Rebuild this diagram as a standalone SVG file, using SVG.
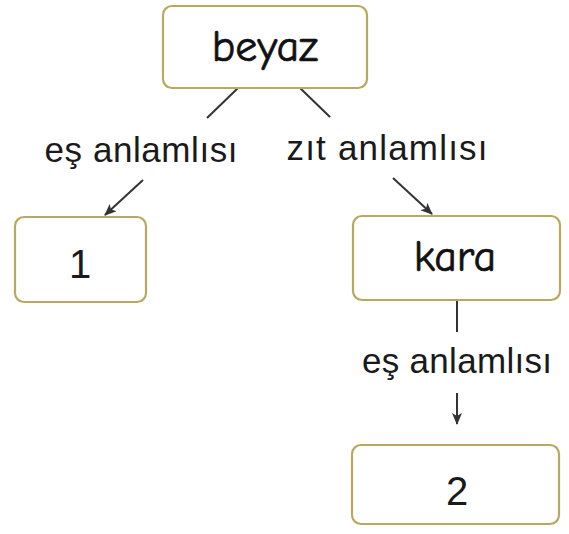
<svg xmlns="http://www.w3.org/2000/svg" width="569" height="534" viewBox="0 0 569 534">
<style>
.box{fill:#fff;stroke:#b9a862;stroke-width:2.2}
.word{font-family:"Comic Neue","DejaVu Sans","Noto Sans",sans-serif;font-size:44px;fill:#111;stroke:#111;stroke-width:0.7;text-anchor:middle}
.lbl{font-family:"Liberation Sans",Arial,sans-serif;font-size:35px;fill:#1a1a1a;text-anchor:middle}
.num{font-family:"Liberation Sans",Arial,sans-serif;font-size:40px;fill:#1a1a1a;text-anchor:middle}
.ln{stroke:#333;stroke-width:2;fill:none}
</style>
<defs>
<marker id="ah" viewBox="0 0 12 10" refX="11" refY="5" markerWidth="12" markerHeight="10" markerUnits="userSpaceOnUse" orient="auto">
<path d="M0,0 L12,5 L0,10 L3,5 Z" fill="#333"/>
</marker>
</defs>
<rect width="569" height="534" fill="#fff"/>
<g id="connectors">
<line class="ln" x1="238" y1="88" x2="207" y2="118"/>
<line class="ln" x1="300" y1="88" x2="330" y2="117"/>
<line class="ln" x1="143" y1="180" x2="105" y2="215" marker-end="url(#ah)"/>
<line class="ln" x1="393" y1="178" x2="432" y2="214" marker-end="url(#ah)"/>
<line class="ln" x1="457" y1="300" x2="457" y2="332"/>
<line class="ln" x1="457" y1="393" x2="457" y2="424" marker-end="url(#ah)"/>
<text class="lbl" x="141" y="162" textLength="193" lengthAdjust="spacing">eş anlamlısı</text>
<text class="lbl" x="387" y="160" textLength="201" lengthAdjust="spacing">zıt anlamlısı</text>
<text class="lbl" x="457" y="373" textLength="190" lengthAdjust="spacing">eş anlamlısı</text>
</g>
<g id="node-beyaz">
<rect class="box" x="163" y="6" width="204" height="82" rx="9"/>
<text class="word" x="265" y="61">beyaz</text>
</g>
<g id="node-1">
<rect class="box" x="15" y="217" width="131" height="85" rx="9"/>
<text class="num" x="80" y="278">1</text>
</g>
<g id="node-kara">
<rect class="box" x="353" y="216" width="207" height="84" rx="9"/>
<text class="word" x="455" y="271">kara</text>
</g>
<g id="node-2">
<rect class="box" x="352" y="445" width="207" height="79" rx="9"/>
<text class="num" x="457" y="505">2</text>
</g>
</svg>
